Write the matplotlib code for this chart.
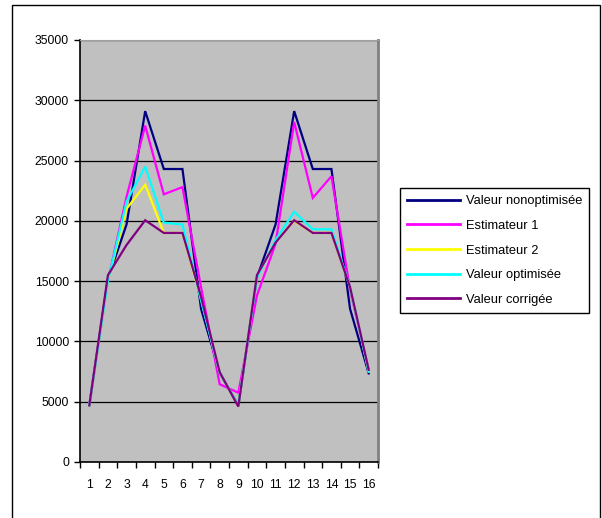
import matplotlib as mpl
import matplotlib.pyplot as plt
from matplotlib.patches import Rectangle


CATEGORIES = list(range(1, 17))

VALEUR_NON_OPTIMISEE = [4700, 15200, 19700, 29100, 24300, 24300, 12700, 7400,
                        4700, 15300, 19700, 29100, 24300, 24300, 12700, 7350]
ESTIMATEUR_1 = [4700, 15000, 22000, 27900, 22200, 22800, 14500, 6450,
                5750, 13800, 18100, 28200, 21900, 23700, 14300, 7600]
ESTIMATEUR_2 = [4700, 15000, 21000, 23000, 19000, 19000, 13500, 7400,
                4700, 15400, 18300, 20000, 19000, 19000, 14500, 7500]
VALEUR_OPTIMISEE = [4700, 15000, 21600, 24500, 19850, 19700, 13400, 7400,
                    4700, 15300, 18400, 20750, 19300, 19300, 14500, 7500]
VALEUR_CORRIGEE = [4700, 15500, 18000, 20050, 19000, 19000, 13700, 7450,
                   4600, 15500, 18200, 20050, 19000, 19000, 14500, 7650]

SERIES = [
    ("Valeur nonoptimisée", VALEUR_NON_OPTIMISEE, "#000080"),
    ("Estimateur 1", ESTIMATEUR_1, "#FF00FF"),
    ("Estimateur 2", ESTIMATEUR_2, "#FFFF00"),
    ("Valeur optimisée", VALEUR_OPTIMISEE, "#00FFFF"),
    ("Valeur corrigée", VALEUR_CORRIGEE, "#800080"),
]

W, H = 602, 518


def main() -> None:
    mpl.rcParams.update(
        {
            "font.family": ["Liberation Sans", "DejaVu Sans"],
            "font.size": 8.7,
        }
    )

    fig = plt.figure(figsize=(W / 100, H / 100), dpi=100)
    # Axes rectangle measured in pixels from the reference
    x0, x1, y_top, y_bot = 80, 378, 40, 462
    ax = fig.add_axes([x0 / W, 1 - y_bot / H, (x1 - x0) / W, (y_bot - y_top) / H])

    # chart-area border (runs off the bottom of the image)
    fig.patches.append(
        Rectangle((12 / W, -0.05), (600 - 12) / W, 1 - 5 / H + 0.05,
                  transform=fig.transFigure, fill=False, edgecolor="black",
                  linewidth=1.0, zorder=0)
    )

    ax.set_facecolor("#C0C0C0")
    for name, values, color in SERIES:
        ax.plot(CATEGORIES, values, color=color, linewidth=1.6, label=name,
                solid_joinstyle="miter")

    ax.set_xlim(0.5, 16.5)
    ax.set_ylim(0, 35000)
    ax.set_yticks(range(0, 35001, 5000))
    ax.yaxis.grid(True, color="black", linewidth=0.9)
    ax.set_axisbelow(True)

    ax.set_xticks(CATEGORIES)
    ax.set_xticklabels([str(c) for c in CATEGORIES])
    ax.set_xticks([c + 0.5 for c in range(0, 17)], minor=True)
    ax.tick_params(axis="x", which="major", length=0, pad=12, labelsize=8.7)
    ax.tick_params(axis="x", which="minor", length=4, width=1, direction="out")
    ax.tick_params(axis="y", length=4, width=1, direction="out", pad=4, labelsize=8.7)

    ax.spines["left"].set_color("black")
    ax.spines["bottom"].set_color("black")
    ax.spines["left"].set_linewidth(1.2)
    ax.spines["bottom"].set_linewidth(1.2)
    ax.spines["top"].set_color("#A0A0A0")
    ax.spines["right"].set_color("#808080")
    ax.spines["right"].set_linewidth(2)

    leg = fig.legend(
        loc="upper left",
        bbox_to_anchor=(400 / W, 1 - 188 / H),
        borderaxespad=0,
        frameon=True,
        fancybox=False,
        edgecolor="black",
        framealpha=1,
        fontsize=9.3,
        handlelength=4.1,
        handletextpad=0.45,
        labelspacing=0.98,
        borderpad=0.55,
    )
    leg.get_frame().set_linewidth(1.0)
    for line in leg.get_lines():
        line.set_linewidth(2)

    fig.savefig("out.png", dpi=100, facecolor="white")
    plt.close(fig)


if __name__ == "__main__":
    main()
